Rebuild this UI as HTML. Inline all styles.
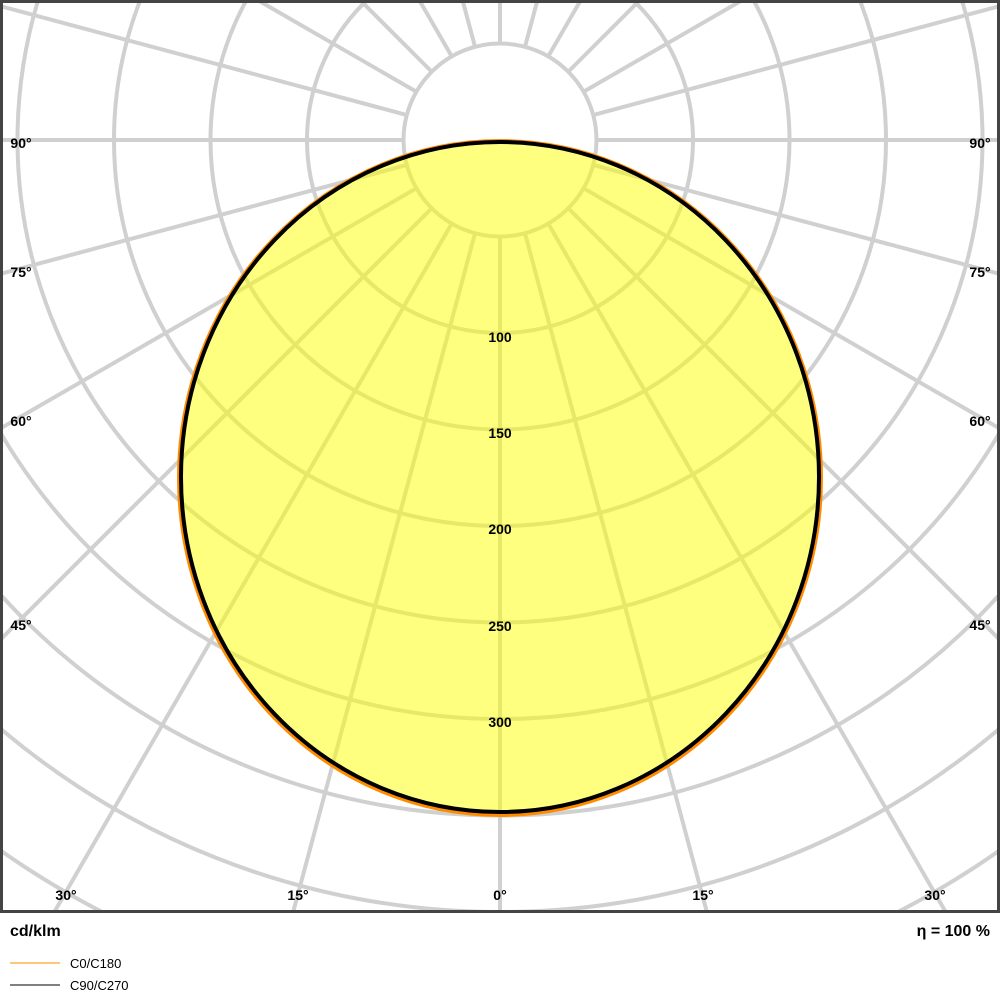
<!DOCTYPE html>
<html><head><meta charset="utf-8"><style>
html,body{margin:0;padding:0;background:#fff;overflow:hidden;width:1000px;height:1000px;}
svg{display:block;font-family:"Liberation Sans",Arial,sans-serif;overflow:hidden;}
</style></head><body>
<svg width="1000" height="1000" viewBox="0 0 1000 1000" xmlns="http://www.w3.org/2000/svg">
<defs><clipPath id="c"><rect x="3" y="3" width="994" height="907"/></clipPath></defs>
<rect x="0" y="0" width="1000" height="1000" fill="#fff"/>
<g clip-path="url(#c)" stroke="#d0d0d0" stroke-width="4" fill="none">
<circle cx="500" cy="140" r="96.5"/>
<circle cx="500" cy="140" r="193"/>
<circle cx="500" cy="140" r="289.5"/>
<circle cx="500" cy="140" r="386"/>
<circle cx="500" cy="140" r="482.5"/>
<circle cx="500" cy="140" r="579"/>
<circle cx="500" cy="140" r="675.5"/>
<circle cx="500" cy="140" r="772"/>
<circle cx="500" cy="140" r="868.5"/>
<circle cx="500" cy="140" r="965"/>
<line x1="500" y1="236.5" x2="500" y2="1100" transform="rotate(0 500 140)"/>
<line x1="500" y1="236.5" x2="500" y2="1100" transform="rotate(15 500 140)"/>
<line x1="500" y1="236.5" x2="500" y2="1100" transform="rotate(30 500 140)"/>
<line x1="500" y1="236.5" x2="500" y2="1100" transform="rotate(45 500 140)"/>
<line x1="500" y1="236.5" x2="500" y2="1100" transform="rotate(60 500 140)"/>
<line x1="500" y1="236.5" x2="500" y2="1100" transform="rotate(75 500 140)"/>
<line x1="500" y1="236.5" x2="500" y2="1100" transform="rotate(90 500 140)"/>
<line x1="500" y1="236.5" x2="500" y2="1100" transform="rotate(105 500 140)"/>
<line x1="500" y1="236.5" x2="500" y2="1100" transform="rotate(120 500 140)"/>
<line x1="500" y1="236.5" x2="500" y2="1100" transform="rotate(135 500 140)"/>
<line x1="500" y1="236.5" x2="500" y2="1100" transform="rotate(150 500 140)"/>
<line x1="500" y1="236.5" x2="500" y2="1100" transform="rotate(165 500 140)"/>
<line x1="500" y1="236.5" x2="500" y2="1100" transform="rotate(180 500 140)"/>
<line x1="500" y1="236.5" x2="500" y2="1100" transform="rotate(-15 500 140)"/>
<line x1="500" y1="236.5" x2="500" y2="1100" transform="rotate(-30 500 140)"/>
<line x1="500" y1="236.5" x2="500" y2="1100" transform="rotate(-45 500 140)"/>
<line x1="500" y1="236.5" x2="500" y2="1100" transform="rotate(-60 500 140)"/>
<line x1="500" y1="236.5" x2="500" y2="1100" transform="rotate(-75 500 140)"/>
<line x1="500" y1="236.5" x2="500" y2="1100" transform="rotate(-90 500 140)"/>
<line x1="500" y1="236.5" x2="500" y2="1100" transform="rotate(-105 500 140)"/>
<line x1="500" y1="236.5" x2="500" y2="1100" transform="rotate(-120 500 140)"/>
<line x1="500" y1="236.5" x2="500" y2="1100" transform="rotate(-135 500 140)"/>
<line x1="500" y1="236.5" x2="500" y2="1100" transform="rotate(-150 500 140)"/>
<line x1="500" y1="236.5" x2="500" y2="1100" transform="rotate(-165 500 140)"/>
</g>
<g clip-path="url(#c)">
<ellipse cx="500" cy="478" rx="321" ry="337" fill="rgba(255,255,0,0.5)" stroke="#ff8c00" stroke-width="4"/>
<ellipse cx="500" cy="477" rx="319" ry="335" fill="none" stroke="#000" stroke-width="4"/>
</g>
<g font-size="14" font-weight="bold" fill="#000" text-anchor="middle">
<text x="500" y="342">100</text>
<text x="500" y="438">150</text>
<text x="500" y="534">200</text>
<text x="500" y="631">250</text>
<text x="500" y="727">300</text>
<text x="21" y="148">90°</text><text x="980" y="148">90°</text>
<text x="21" y="277">75°</text><text x="980" y="277">75°</text>
<text x="21" y="426">60°</text><text x="980" y="426">60°</text>
<text x="21" y="630">45°</text><text x="980" y="630">45°</text>
<text x="66" y="900">30°</text><text x="935" y="900">30°</text>
<text x="298" y="900">15°</text><text x="703" y="900">15°</text>
<text x="500" y="900">0°</text>
</g>
<rect x="1.5" y="1.5" width="997" height="910" fill="none" stroke="#444" stroke-width="3"/>
<text x="10" y="936" font-size="16" font-weight="bold">cd/klm</text>
<text x="990" y="936" font-size="16" font-weight="bold" text-anchor="end">η = 100 %</text>
<line x1="10" y1="963" x2="60" y2="963" stroke="#ff8c00" stroke-width="1"/>
<text x="70" y="968" font-size="13">C0/C180</text>
<line x1="10" y1="985" x2="60" y2="985" stroke="#000" stroke-width="1"/>
<text x="70" y="990" font-size="13">C90/C270</text>
</svg>
</body></html>
